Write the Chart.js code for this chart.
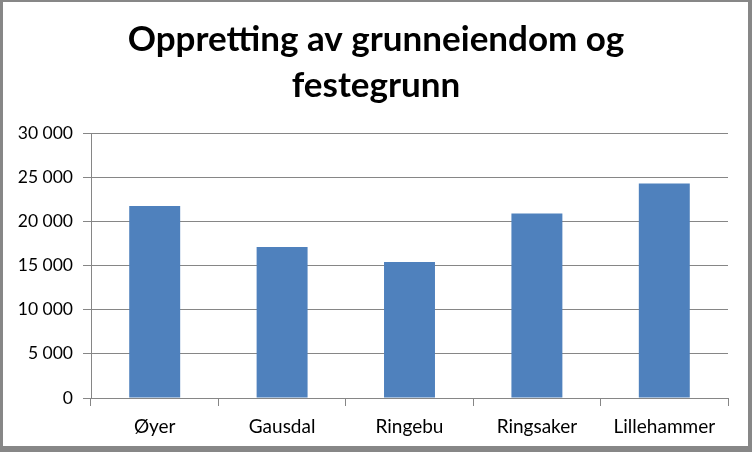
<!DOCTYPE html>
<html>
<head>
<meta charset="utf-8">
<script src="https://cdn.jsdelivr.net/npm/chart.js@4"></script>
<style>
html,body{margin:0;padding:0;background:#fff;}
#wrap{width:752px;height:452px;position:relative;}
</style>
</head>
<body>
<div id="wrap"><canvas id="c" width="752" height="452"></canvas></div>
<script>
const titleLines = ["Oppretting av grunneiendom og", "festegrunn"];
const categories = ["Øyer", "Gausdal", "Ringebu", "Ringsaker", "Lillehammer"];
const values = [21750, 17100, 15400, 20900, 24300];
const yTicks = [0, 5000, 10000, 15000, 20000, 25000, 30000];

const fmt = v => String(v).replace(/\B(?=(\d{3})+(?!\d))/g, " ");

const frame = {
  id: 'frame',
  beforeDraw(chart) {
    const ctx = chart.ctx;
    ctx.save();
    ctx.fillStyle = '#fff';
    ctx.fillRect(0, 0, chart.width, chart.height);
    ctx.restore();
  },
  afterDraw(chart) {
    const ctx = chart.ctx, w = chart.width, h = chart.height;
    ctx.save();
    ctx.fillStyle = '#878787';
    ctx.fillRect(0, 0, w, 2);
    ctx.fillRect(0, 0, 3, h);
    ctx.fillRect(w - 4, 0, 4, h);
    ctx.fillRect(0, h - 6, w, 6);
    ctx.restore();
  }
};

new Chart(document.getElementById('c'), {
  type: 'bar',
  data: {
    labels: categories,
    datasets: [{
      data: values,
      backgroundColor: '#4F81BD',
      borderWidth: 0,
      categoryPercentage: 0.4,
      barPercentage: 1.0
    }]
  },
  options: {
    responsive: false,
    animation: false,
    devicePixelRatio: 1,
    layout: { padding: { left: 0, right: 0, top: 0, bottom: 0 } },
    plugins: {
      legend: { display: false },
      tooltip: { enabled: false },
      title: {
        display: true,
        text: titleLines,
        color: '#000',
        font: { family: 'Lato', size: 35, weight: 'bold', lineHeight: 1.33 },
        padding: { top: 16, bottom: 24 }
      }
    },
    scales: {
      x: {
        grid: { drawOnChartArea: false, drawTicks: true, tickLength: 8, color: '#868686', offset: true },
        border: { color: '#868686' },
        ticks: { color: '#000', font: { family: 'Lato', size: 19 }, padding: 9 },
        afterFit(s) { s.height = 54; }
      },
      y: {
        min: 0, max: 30000,
        afterBuildTicks(s) { s.ticks = yTicks.map(v => ({ value: v })); },
        grid: { color: '#868686', tickLength: 8 },
        border: { color: '#868686' },
        ticks: { color: '#000', font: { family: 'Lato', size: 17.5 }, padding: 10, callback: v => fmt(v) },
        afterFit(s) { s.width = 91; }
      },
      yRight: {
        position: 'right',
        display: true,
        min: 0, max: 30000,
        grid: { display: false, drawTicks: false },
        border: { display: false },
        ticks: { display: false },
        afterFit(s) { s.width = 24; }
      }
    }
  },
  plugins: [frame]
});
</script>
</body>
</html>
